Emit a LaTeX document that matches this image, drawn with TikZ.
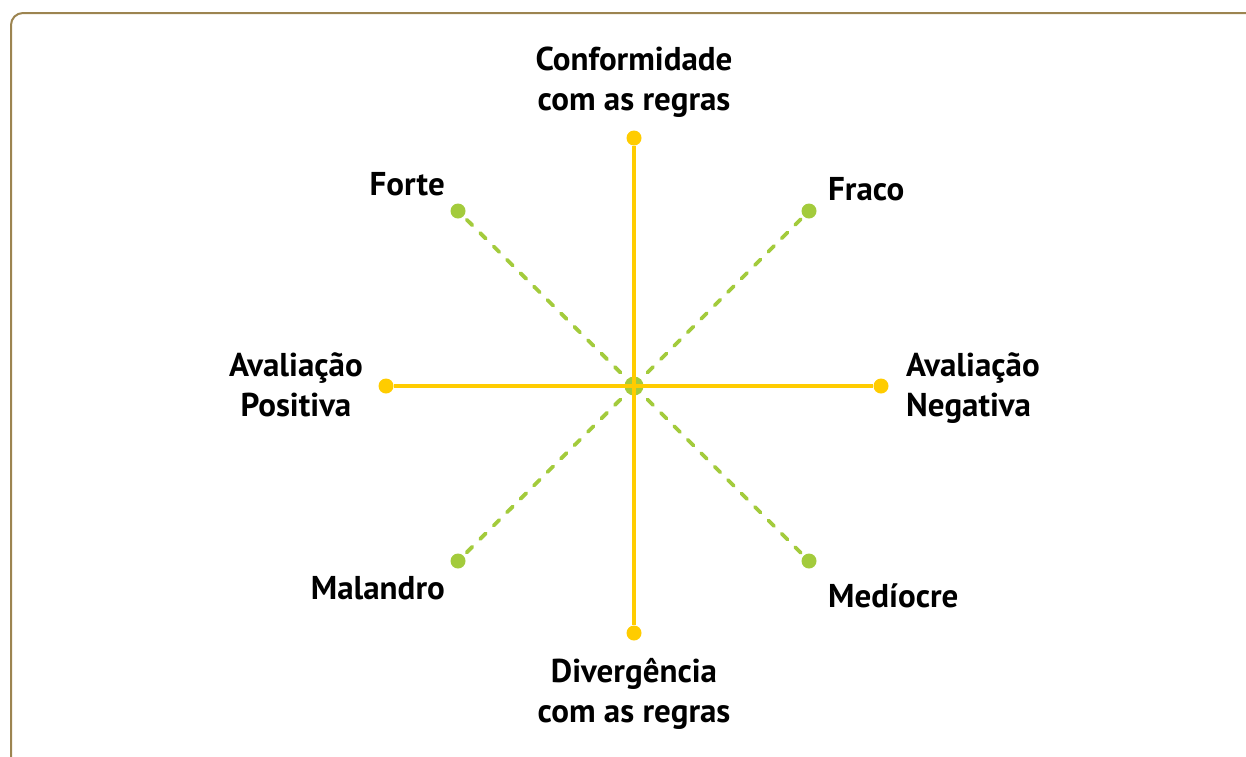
\documentclass[tikz,border=0pt]{standalone}
\usepackage{fontspec}
\setmainfont{PT Sans}
\definecolor{ylw}{HTML}{FFCC00}
\definecolor{grn}{HTML}{A3CB3C}
\definecolor{frame}{HTML}{9C8450}
\begin{document}
\begin{tikzpicture}[x=1pt,y=-1pt,
  solidaxis/.style={ylw,line width=3.6pt},
  dashaxis/.style={grn,line width=3.8pt,dash pattern=on 8pt off 11pt,line cap=round},
  ydot/.style={circle,fill=ylw,inner sep=0pt,minimum size=15pt},
  gdot/.style={circle,fill=grn,inner sep=0pt,minimum size=15pt},
  lbl/.style={font=\fontsize{33}{40}\selectfont\bfseries,inner sep=0pt,align=center}]
\useasboundingbox (0,0) rectangle (1246,756);
\draw[frame,line width=2pt,rounded corners=12pt] (11,760) -- (11,13) -- (1250,13);
% points
\coordinate (c) at (634,386);
\draw[dashaxis] (c) -- (458,211);
\draw[dashaxis] (c) -- (809,211);
\draw[dashaxis] (c) -- (458,561);
\draw[dashaxis] (c) -- (809,561);
\node[gdot,minimum size=19pt] (cd) at (c) {};
\node[gdot] (fo) at (458,211) {};
\node[gdot] (fr) at (809,211) {};
\node[gdot] (ma) at (458,561) {};
\node[gdot] (me) at (809,561) {};
\node[ydot] (top) at (634,138) {};
\node[ydot] (bot) at (634,633) {};
\node[ydot] (lef) at (386,386) {};
\node[ydot] (rig) at (881,386) {};
\draw[solidaxis] (top) -- (bot);
\draw[solidaxis] (lef) -- (rig);
% labels
\node[lbl,anchor=base] (tl) at (634,110) {Conformidade\\com as regras};
\node[lbl,anchor=base] (bl) at (634,722) {Divergência\\com as regras};
\node[lbl,anchor=base east] at (445,195) {Forte};
\node[lbl,anchor=base west] at (828,200) {Fraco};
\node[lbl,anchor=base east] at (445,599) {Malandro};
\node[lbl,anchor=base west] at (828,607) {Medíocre};
\node[lbl,anchor=base] at (296,416) {Avaliação\\Positiva};
\node[lbl,anchor=base west,align=left] at (906,416) {Avaliação\\Negativa};
\end{tikzpicture}
\end{document}
